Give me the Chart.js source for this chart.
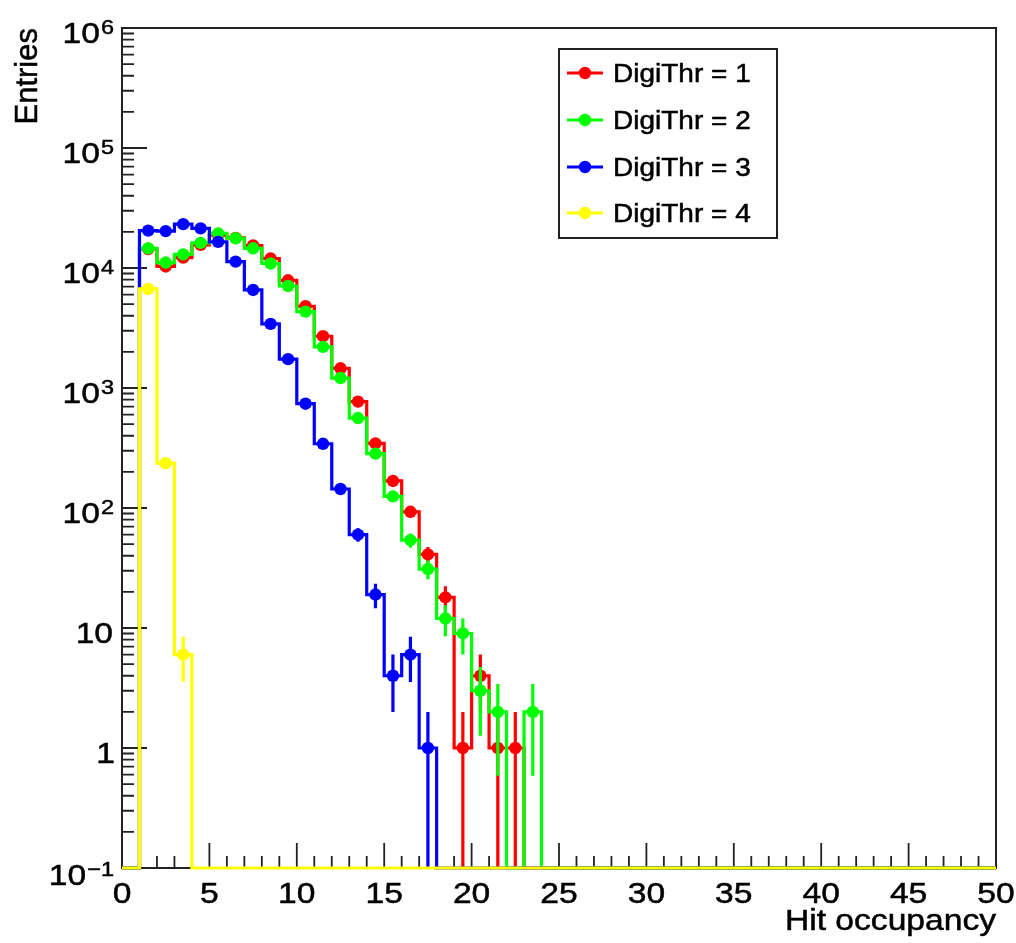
<!DOCTYPE html>
<html>
<head>
<meta charset="utf-8">
<script src="https://cdn.jsdelivr.net/npm/chart.js@4.4.1/dist/chart.umd.min.js"></script>
<style>
html,body{margin:0;padding:0;background:#ffffff;}
canvas{display:block;}
</style>
</head>
<body>
<canvas id="c" width="1016" height="943"></canvas>
<script>
// ---------------- data ----------------
const binEdges = [0,1,2,3,4,5,6,7,8,9,10,11,12,13,14,15,16,17,18,19,20,21,22,23,24,25,
  26,27,28,29,30,31,32,33,34,35,36,37,38,39,40,41,42,43,44,45,46,47,48,49,50];
const xTickLabels = [0,5,10,15,20,25,30,35,40,45,50];
const yDecades = [-1,0,1,2,3,4,5,6];
const seriesLabels = ['DigiThr = 1','DigiThr = 2','DigiThr = 3','DigiThr = 4'];
const seriesColors = ['#ff0000','#00ff00','#0000ff','#ffff00'];

const digiThr1 = [0,14400,10300,12200,15600,18800,17800,15400,12000,7900,
  4800,2700,1460,770,345,168,93,41,18,1,
  4,1,1,0,0,0,0,0,0,0,
  0,0,0,0,0,0,0,0,0,0,
  0,0,0,0,0,0,0,0,0,0];
const digiThr2 = [0,14600,11100,13000,16200,19400,17700,14600,10900,7080,
  4330,2200,1210,562,284,125,54,31,12,9,
  3,2,0,2,0,0,0,0,0,0,
  0,0,0,0,0,0,0,0,0,0,
  0,0,0,0,0,0,0,0,0,0];
const digiThr3 = [0,20500,20300,23200,21400,16500,11300,6560,3420,1740,
  740,343,144,60,19,4,6,1,0,0,
  0,0,0,0,0,0,0,0,0,0,
  0,0,0,0,0,0,0,0,0,0,
  0,0,0,0,0,0,0,0,0,0];
const digiThr4 = [0,6700,236,6,0,0,0,0,0,0,
  0,0,0,0,0,0,0,0,0,0,
  0,0,0,0,0,0,0,0,0,0,
  0,0,0,0,0,0,0,0,0,0,
  0,0,0,0,0,0,0,0,0,0];
const seriesValues = [digiThr1, digiThr2, digiThr3, digiThr4];

const X_MIN = 0, X_MAX = 50, Y_MIN = 0.1, Y_MAX = 1e6;
const FONT = '"Liberation Sans", Arial, Helvetica, sans-serif';
const SX = 1.12;
const MARKER_R = 6.2;

// ---------------- datasets ----------------
const datasets = [];
seriesValues.forEach((vals, s) => {
  const step = [];
  for (let i = 0; i < vals.length; i++) {
    step.push({x: binEdges[i], y: Math.max(vals[i], Y_MIN)});
  }
  step.push({x: binEdges[vals.length], y: Math.max(vals[vals.length - 1], Y_MIN)});
  const pts = [];
  for (let i = 0; i < vals.length; i++) {
    if (vals[i] > 0) pts.push({x: (binEdges[i] + binEdges[i + 1]) / 2, y: vals[i]});
  }
  datasets.push({
    label: seriesLabels[s] + ' hist',
    data: step,
    stepped: true,
    borderColor: seriesColors[s],
    borderWidth: 3.2,
    pointRadius: 0,
    fill: false,
    tension: 0,
    clip: false,
    order: 7 - 2 * s
  });
  datasets.push({
    label: seriesLabels[s],
    data: pts,
    showLine: false,
    pointRadius: MARKER_R,
    pointHoverRadius: MARKER_R,
    pointStyle: 'circle',
    backgroundColor: seriesColors[s],
    borderColor: seriesColors[s],
    borderWidth: 0,
    clip: false,
    errColor: seriesColors[s],
    order: 6 - 2 * s
  });
});

function sText(ctx, txt, x, y, align, font, sx) {
  ctx.save();
  ctx.font = font;
  ctx.translate(x, y);
  ctx.scale(sx, 1);
  ctx.textAlign = align;
  ctx.textBaseline = 'alphabetic';
  ctx.fillText(txt, 0, 0);
  ctx.lineWidth = 0.5;
  ctx.strokeStyle = ctx.fillStyle;
  ctx.strokeText(txt, 0, 0);
  ctx.restore();
}
function sWidth(ctx, txt, font, sx) {
  ctx.save(); ctx.font = font; const w = ctx.measureText(txt).width * sx; ctx.restore(); return w;
}

const rootFrame = {
  id: 'rootFrame',
  beforeDatasetsDraw(chart) {
    const {ctx, chartArea: a, scales: {x, y}} = chart;
    ctx.save();
    ctx.fillStyle = '#ffffff';
    ctx.fillRect(0, 0, chart.width, chart.height);
    // frame
    ctx.strokeStyle = '#222222';
    ctx.lineWidth = 2;
    ctx.strokeRect(a.left, a.top, a.right - a.left, a.bottom - a.top);
    // x ticks
    ctx.lineWidth = 1.8;
    ctx.beginPath();
    for (let t = X_MIN; t <= X_MAX; t += 1) {
      const px = x.getPixelForValue(t);
      const len = (xTickLabels.indexOf(t) >= 0) ? 25 : 12;
      ctx.moveTo(px, a.bottom);
      ctx.lineTo(px, a.bottom - len);
    }
    // y ticks
    yDecades.forEach(d => {
      const py = y.getPixelForValue(Math.pow(10, d));
      ctx.moveTo(a.left, py); ctx.lineTo(a.left + 25, py);
      if (d < 6) {
        for (let m = 2; m <= 9; m++) {
          const pm = y.getPixelForValue(m * Math.pow(10, d));
          ctx.moveTo(a.left, pm); ctx.lineTo(a.left + 12, pm);
        }
      }
    });
    ctx.stroke();
    // x labels
    ctx.fillStyle = '#000000';
    const lf = '30px ' + FONT;
    xTickLabels.forEach(t => {
      sText(ctx, String(t), x.getPixelForValue(t), a.bottom + 35, 'center', lf, SX);
    });
    // y labels
    const supF = '21px ' + FONT;
    yDecades.forEach(d => {
      const py = y.getPixelForValue(Math.pow(10, d));
      const base = py + (d === -1 ? 17 : 15);
      const right = 114;
      if (d === 0) {
        sText(ctx, '1', right + 1, base, 'right', lf, SX);
      } else if (d === 1) {
        sText(ctx, '10', right - 1, base, 'right', lf, SX);
      } else {
        const sup = d < 0 ? '\u2212' + Math.abs(d) : String(d);
        const sw = sWidth(ctx, sup, supF, SX);
        sText(ctx, sup, right, base - 9, 'right', supF, SX);
        sText(ctx, '10', right - sw - 1, base, 'right', lf, SX);
      }
    });
    // axis titles
    sText(ctx, 'Hit occupancy', a.right, 930, 'right', '30px ' + FONT, SX);
    ctx.save();
    ctx.translate(37, a.top);
    ctx.rotate(-Math.PI / 2);
    ctx.font = '31px ' + FONT;
    ctx.textAlign = 'right';
    ctx.textBaseline = 'alphabetic';
    ctx.fillText('Entries', 0, 0);
    ctx.lineWidth = 0.5;
    ctx.strokeStyle = '#000000';
    ctx.strokeText('Entries', 0, 0);
    ctx.restore();
    ctx.restore();
  },
  afterDatasetDraw(chart, args) {
    const ds = chart.data.datasets[args.index];
    if (!ds.errColor) return;
    const {ctx, chartArea: a, scales: {x, y}} = chart;
    ctx.save();
    ctx.strokeStyle = ds.errColor;
    ctx.lineWidth = 3.2;
    ctx.beginPath();
    ds.data.forEach(p => {
      const e = Math.sqrt(p.y);
      const px = x.getPixelForValue(p.x);
      const top = y.getPixelForValue(p.y + e);
      const lo = p.y - e;
      const bot = lo > Y_MIN ? y.getPixelForValue(lo) : a.bottom;
      ctx.moveTo(px, top);
      ctx.lineTo(px, bot);
    });
    ctx.stroke();
    ctx.restore();
  },
  afterDraw(chart) {
    const {ctx} = chart;
    ctx.save();
    const L = 559, T = 49, R = 777, B = 238;
    ctx.fillStyle = '#ffffff';
    ctx.fillRect(L, T, R - L, B - T);
    ctx.strokeStyle = '#222222';
    ctx.lineWidth = 2;
    ctx.strokeRect(L, T, R - L, B - T);
    const rows = [73, 120, 167, 213];
    seriesLabels.forEach((lab, s) => {
      const ry = rows[s];
      ctx.strokeStyle = seriesColors[s];
      ctx.lineWidth = 3.2;
      ctx.beginPath();
      ctx.moveTo(567, ry); ctx.lineTo(603, ry);
      ctx.stroke();
      ctx.fillStyle = seriesColors[s];
      ctx.beginPath();
      ctx.arc(585, ry, MARKER_R, 0, Math.PI * 2);
      ctx.fill();
      ctx.fillStyle = '#000000';
      sText(ctx, lab, 613, ry + 9, 'left', '25px ' + FONT, SX);
    });
    ctx.restore();
  }
};

new Chart(document.getElementById('c'), {
  type: 'line',
  data: {datasets},
  options: {
    responsive: false,
    animation: false,
    devicePixelRatio: 1,
    layout: {padding: {left: 122, top: 28, right: 20, bottom: 75}},
    plugins: {legend: {display: false}, tooltip: {enabled: false}},
    events: [],
    scales: {
      x: {type: 'linear', min: X_MIN, max: X_MAX, display: false},
      y: {type: 'logarithmic', min: Y_MIN, max: Y_MAX, display: false}
    }
  },
  plugins: [rootFrame]
});
</script>
</body>
</html>
